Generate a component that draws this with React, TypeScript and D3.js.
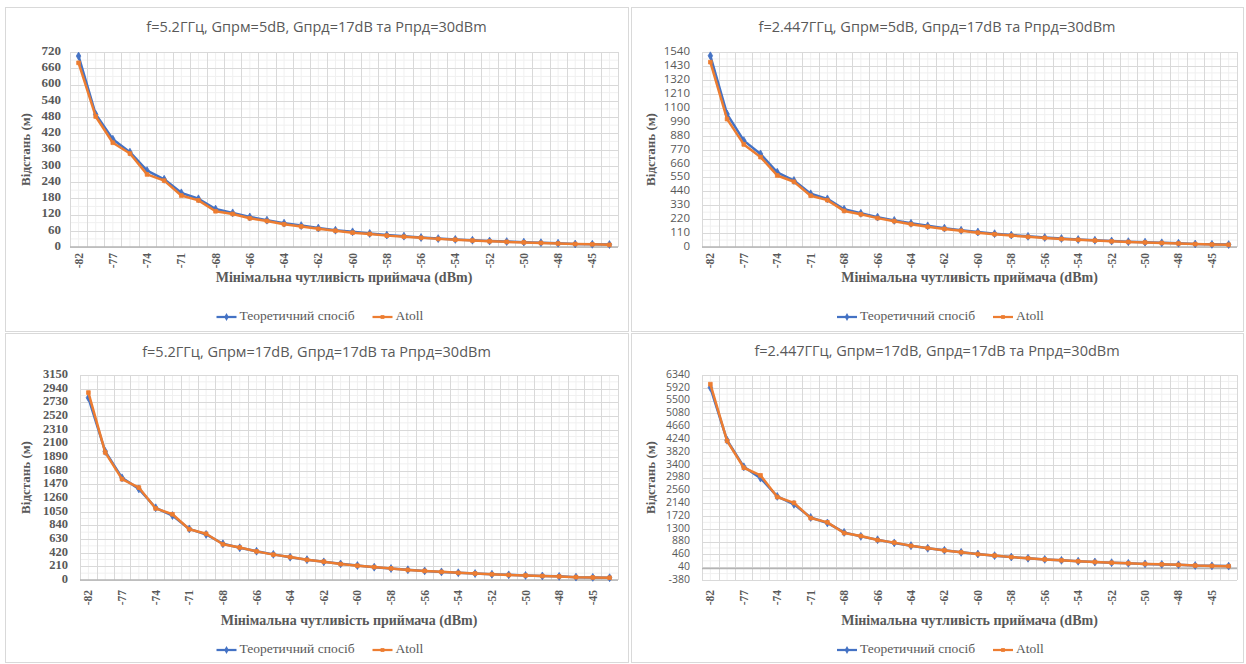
import React from 'react';
import * as d3 from 'd3';

// ---------- DATA ----------
const categories = [-82, -79, -77, -76, -74, -73, -71, -70, -68, -67, -66, -65, -64, -63, -62, -61, -60, -59, -58, -57, -56, -55, -54, -53, -52, -51, -50, -49, -48, -46, -45, -44];
const labelEvery = 2;

const seriesNames = ['Теоретичний спосіб', 'Atoll'];

const p1Theory = [705, 490, 398, 350, 282, 250, 200, 178, 140, 126, 111, 99, 88, 79, 70, 62, 56, 50, 44, 40, 35, 31, 28, 25, 22, 20, 18, 16, 14, 11, 10, 9];
const p1Atoll = [680, 482, 385, 345, 268, 245, 190, 172, 132, 122, 106, 96, 84, 76, 67, 60, 53, 48, 42, 38, 34, 30, 27, 24, 21, 19, 17, 15, 13, 11, 10, 8];
const p1Ticks = [0, 60, 120, 180, 240, 300, 360, 420, 480, 540, 600, 660, 720];

const p2Theory = [1510, 1050, 840, 735, 590, 525, 420, 380, 298, 266, 236, 210, 187, 167, 149, 132, 118, 105, 94, 84, 75, 67, 59, 53, 47, 42, 38, 33, 30, 24, 21, 19];
const p2Atoll = [1460, 1010, 810, 710, 565, 515, 405, 370, 285, 258, 228, 204, 180, 160, 143, 128, 113, 101, 90, 80, 72, 64, 57, 51, 45, 40, 36, 32, 28, 23, 20, 18];
const p2Ticks = [0, 110, 220, 330, 440, 550, 660, 770, 880, 990, 1100, 1210, 1320, 1430, 1540];

const p3Theory = [2800, 1975, 1570, 1400, 1110, 990, 785, 700, 557, 495, 442, 394, 350, 312, 279, 248, 222, 197, 176, 157, 140, 124, 111, 99, 88, 79, 70, 62, 56, 44, 40, 35];
const p3Atoll = [2880, 1960, 1550, 1420, 1100, 1010, 780, 710, 550, 500, 440, 390, 352, 310, 282, 245, 220, 198, 178, 155, 140, 125, 110, 100, 88, 78, 70, 62, 55, 44, 39, 35];
const p3Ticks = [0, 210, 420, 630, 840, 1050, 1260, 1470, 1680, 1890, 2100, 2310, 2520, 2730, 2940, 3150];

const p4Theory = [5930, 4200, 3330, 2960, 2360, 2100, 1670, 1490, 1180, 1050, 940, 836, 745, 660, 593, 526, 470, 418, 372, 332, 296, 264, 235, 210, 187, 166, 148, 132, 118, 94, 84, 75];
const p4Atoll = [6040, 4180, 3300, 3050, 2340, 2150, 1650, 1510, 1160, 1060, 930, 845, 740, 665, 590, 530, 468, 420, 370, 335, 295, 265, 234, 210, 186, 167, 148, 133, 117, 93, 83, 74];
const p4Ticks = [-380, 40, 460, 880, 1300, 1720, 2140, 2560, 2980, 3400, 3820, 4240, 4660, 5080, 5500, 5920, 6340];

const titles = [
  'f=5.2ГГц, Gпрм=5dB, Gпрд=17dB та Рпрд=30dBm',
  'f=2.447ГГц, Gпрм=5dB, Gпрд=17dB та Рпрд=30dBm',
  'f=5.2ГГц, Gпрм=17dB, Gпрд=17dB та Рпрд=30dBm',
  'f=2.447ГГц, Gпрм=17dB, Gпрд=17dB та Рпрд=30dBm',
];
const yTitle = 'Відстань (м)';
const xTitle = 'Мінімальна чутливість приймача (dBm)';

// ---------- STYLE / LAYOUT ----------
const BLUE = '#4472C4';
const ORANGE = '#ED7D31';
const SERIF = 'Liberation Serif, DejaVu Serif, serif';
const SANS = 'Open Sans, Liberation Sans, sans-serif';

type PanelCfg = {
  title: string;
  theory: number[];
  atoll: number[];
  ticks: number[];
  box: [number, number, number, number];
  left: number; right: number; top: number; bottom: number;
  titleY: number; yLabelX: number; yTitleX: number;
  xLabelY: number; xTitleY: number; legendY: number;
  tickFont: string; tickSize: number;
};

const panels: PanelCfg[] = [
  { title: titles[0], theory: p1Theory, atoll: p1Atoll, ticks: p1Ticks, box: [5, 7, 628, 331],
    left: 70, right: 618, top: 52, bottom: 247, titleY: 28, yLabelX: 61, yTitleX: 27,
    xLabelY: 253, xTitleY: 279, legendY: 317, tickFont: SERIF, tickSize: 13 },
  { title: titles[1], theory: p2Theory, atoll: p2Atoll, ticks: p2Ticks, box: [631, 7, 1243, 331],
    left: 702, right: 1237, top: 52, bottom: 247, titleY: 28, yLabelX: 690, yTitleX: 652,
    xLabelY: 253, xTitleY: 279, legendY: 317, tickFont: SANS, tickSize: 11.5 },
  { title: titles[2], theory: p3Theory, atoll: p3Atoll, ticks: p3Ticks, box: [5, 333, 628, 662],
    left: 80, right: 618, top: 375, bottom: 580, titleY: 353, yLabelX: 68, yTitleX: 27,
    xLabelY: 590, xTitleY: 622, legendY: 650, tickFont: SERIF, tickSize: 12.5 },
  { title: titles[3], theory: p4Theory, atoll: p4Atoll, ticks: p4Ticks, box: [631, 333, 1243, 662],
    left: 702, right: 1237, top: 375, bottom: 580, titleY: 352, yLabelX: 690, yTitleX: 652,
    xLabelY: 590, xTitleY: 622, legendY: 650, tickFont: SANS, tickSize: 10.5 },
];

function Panel({ cfg }: { cfg: PanelCfg }) {
  const idx = categories.map((_, i) => i);
  const x = d3.scaleBand<number>().domain(idx).range([cfg.left, cfg.right]).padding(0);
  const bw = x.bandwidth();
  const cx = (i: number) => (x(i) as number) + bw / 2;
  const yMin = cfg.ticks[0];
  const yMax = cfg.ticks[cfg.ticks.length - 1];
  const y = d3.scaleLinear().domain([yMin, yMax]).range([cfg.bottom, cfg.top]);
  const step = cfg.ticks[1] - cfg.ticks[0];
  const line = d3.line<number>().x((_, i) => cx(i)).y((d) => y(d));
  const diamond = d3.symbol(d3.symbolDiamond, 18)() as string;
  const square = d3.symbol(d3.symbolSquare, 14)() as string;
  const [bx0, by0, bx1, by1] = cfg.box;
  const midX = (bx0 + bx1) / 2;
  const plotMid = (cfg.left + cfg.right) / 2;

  const minorY = cfg.ticks.slice(0, -1).map((t) => t + step / 2);
  const vBounds = d3.range(categories.length + 1).map((i) => cfg.left + i * bw);

  const legW1 = 138;
  const legStart = midX - 100;
  const serifStyle = { fontFamily: SERIF };

  return (
    <g>
      <rect x={bx0 + 0.5} y={by0 + 0.5} width={bx1 - bx0} height={by1 - by0} fill="#fff" stroke="#d9d9d9" />
      <text x={midX} y={cfg.titleY} textAnchor="middle" dominantBaseline="middle" style={{ fontFamily: SANS }} fontSize={14.5} fill="#595959">
        {cfg.title}
      </text>
      {minorY.map((v, i) => (
        <line key={'my' + i} x1={cfg.left} x2={cfg.right} y1={y(v)} y2={y(v)} stroke="#f0f0f0" />
      ))}
      {idx.map((i) => (
        <line key={'mx' + i} x1={cx(i)} x2={cx(i)} y1={cfg.top} y2={cfg.bottom} stroke="#f0f0f0" />
      ))}
      {cfg.ticks.map((t) => (
        <line key={'gy' + t} x1={cfg.left} x2={cfg.right} y1={Math.round(y(t)) + 0.5} y2={Math.round(y(t)) + 0.5} stroke="#d9d9d9" />
      ))}
      {vBounds.map((v, i) => (
        <line key={'gx' + i} x1={Math.round(v) + 0.5} x2={Math.round(v) + 0.5} y1={cfg.top} y2={cfg.bottom} stroke="#d9d9d9" />
      ))}
      <line x1={cfg.left} x2={cfg.right} y1={y(0)} y2={y(0)} stroke="#b4b4b4" strokeWidth={1.5} />
      {cfg.ticks.map((t) => (
        <text key={'yl' + t} x={cfg.yLabelX} y={y(t)} textAnchor="end" dominantBaseline="middle" style={{ fontFamily: cfg.tickFont }}
          fontSize={cfg.tickSize} fontWeight={cfg.tickFont === SERIF ? 'bold' : 'normal'} fill="#595959">
          {t}
        </text>
      ))}
      {idx.filter((i) => i % labelEvery === 0).map((i) => (
        <text key={'xl' + i} transform={`translate(${cx(i) + 4},${cfg.xLabelY}) rotate(-90)`} textAnchor="end"
          style={serifStyle} fontSize={11.5} fontWeight="bold" fill="#595959">
          {categories[i]}
        </text>
      ))}
      <text transform={`translate(${cfg.yTitleX},${(cfg.top + cfg.bottom) / 2}) rotate(-90)`} textAnchor="middle" dominantBaseline="middle"
        style={serifStyle} fontSize={13} fontWeight="bold" fill="#595959">
        {yTitle}
      </text>
      <text x={plotMid} y={cfg.xTitleY} textAnchor="middle" dominantBaseline="middle" style={serifStyle} fontSize={14}
        fontWeight="bold" fill="#595959">
        {xTitle}
      </text>
      <path d={line(cfg.theory) as string} fill="none" stroke={BLUE} strokeWidth={2.5} strokeLinejoin="round" />
      {cfg.theory.map((v, i) => (
        <path key={'bm' + i} d={diamond} transform={`translate(${cx(i)},${y(v)})`} fill={BLUE} stroke={BLUE} strokeWidth={0.75} />
      ))}
      <path d={line(cfg.atoll) as string} fill="none" stroke={ORANGE} strokeWidth={2.5} strokeLinejoin="round" />
      {cfg.atoll.map((v, i) => (
        <path key={'om' + i} d={square} transform={`translate(${cx(i)},${y(v)})`} fill={ORANGE} stroke={ORANGE} strokeWidth={0.75} />
      ))}
      <g>
        <line x1={legStart} x2={legStart + 20} y1={cfg.legendY} y2={cfg.legendY} stroke={BLUE} strokeWidth={2.25} />
        <path d={diamond} transform={`translate(${legStart + 10},${cfg.legendY})`} fill={BLUE} />
        <text x={legStart + 23} y={cfg.legendY} dominantBaseline="middle" style={serifStyle} fontSize={13.5} fill="#595959">
          {seriesNames[0]}
        </text>
        <line x1={legStart + legW1 + 18} x2={legStart + legW1 + 38} y1={cfg.legendY} y2={cfg.legendY} stroke={ORANGE} strokeWidth={2.25} />
        <path d={square} transform={`translate(${legStart + legW1 + 28},${cfg.legendY})`} fill={ORANGE} />
        <text x={legStart + legW1 + 41} y={cfg.legendY} dominantBaseline="middle" style={serifStyle} fontSize={13.5} fill="#595959">
          {seriesNames[1]}
        </text>
      </g>
    </g>
  );
}

export default function App() {
  return (
    <svg width={1246} height={664} style={{ position: 'absolute', left: 0, top: 0, background: '#fff' }}>
      <rect x={0} y={0} width={1246} height={664} fill="#fff" />
      {panels.map((p, i) => (
        <Panel key={i} cfg={p} />
      ))}
    </svg>
  );
}
